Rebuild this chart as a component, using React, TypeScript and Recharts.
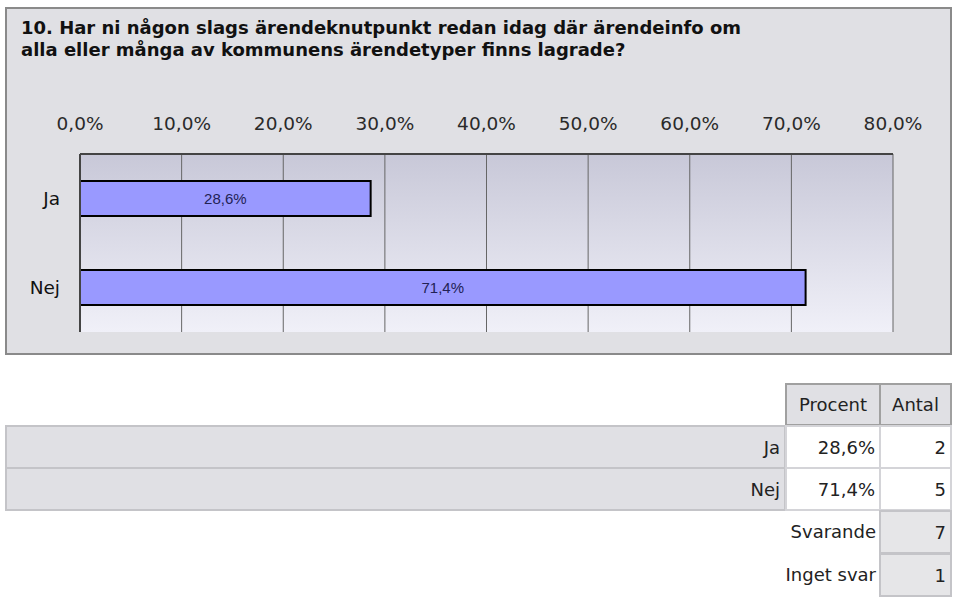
import { BarChart, Bar, XAxis, YAxis, CartesianGrid, LabelList } from 'recharts';

const categories = ['Ja', 'Nej'];
const percents = [28.6, 71.4];
const counts = [2, 5];
const xTicks = [0, 10, 20, 30, 40, 50, 60, 70, 80];
const answered = 7;
const noAnswer = 1;

const TITLE_LINES = [
  '10. Har ni någon slags ärendeknutpunkt redan idag där ärendeinfo om',
  'alla eller många av kommunens ärendetyper finns lagrade?',
];

const FONT = '"DejaVu Sans", Verdana, sans-serif';
const fmt = (v: number) => v.toFixed(1).replace('.', ',') + '%';

const data = categories.map((name, i) => ({ name, value: percents[i] }));

const cell = (extra: React.CSSProperties): React.CSSProperties => ({
  position: 'absolute',
  boxSizing: 'border-box',
  fontFamily: FONT,
  fontSize: 18,
  color: '#222',
  display: 'flex',
  alignItems: 'center',
  justifyContent: 'flex-end',
  paddingRight: 4,
  whiteSpace: 'nowrap',
  ...extra,
});

export default function App() {
  const rowTop = 425;
  const rowH = 42;
  return (
    <div style={{ position: 'absolute', left: 0, top: 0, width: 959, height: 601, background: '#fff' }}>
      <div
        style={{
          position: 'absolute',
          left: 5,
          top: 7,
          width: 947,
          height: 348,
          boxSizing: 'border-box',
          border: '2px solid #8a8a8a',
          background: '#e0e0e4',
        }}
      />
      <div
        style={{
          position: 'absolute',
          left: 21,
          top: 17,
          fontFamily: FONT,
          fontWeight: 'bold',
          fontSize: 18,
          lineHeight: '22px',
          color: '#111',
          whiteSpace: 'nowrap',
        }}
      >
        {TITLE_LINES.map((l) => (
          <div key={l}>{l}</div>
        ))}
      </div>
      <div style={{ position: 'absolute', left: 0, top: 0 }}>
        <BarChart
          width={959}
          height={360}
          data={data}
          layout="vertical"
          margin={{ top: 114, right: 66, bottom: 28, left: 20 }}
        >
          <defs>
            <linearGradient id="plotBg" x1="0" y1="0" x2="0" y2="1">
              <stop offset="0%" stopColor="#c8c8d8" />
              <stop offset="100%" stopColor="#f0f0f8" />
            </linearGradient>
          </defs>
          <CartesianGrid
            horizontal={false}
            stroke="#666"
            fill="url(#plotBg)"
            fillOpacity={1}
          />
          <XAxis
            type="number"
            orientation="top"
            domain={[0, 80]}
            ticks={xTicks}
            tickFormatter={fmt}
            height={40}
            tickLine={false}
            tickMargin={18}
            axisLine={{ stroke: '#444', strokeWidth: 2 }}
            tick={{ fontFamily: FONT, fontSize: 18.5, fill: '#2a2a2a' }}
          />
          <XAxis
            xAxisId="bottom"
            type="number"
            orientation="bottom"
            domain={[0, 80]}
            height={0}
            tick={false}
            tickLine={false}
            axisLine={{ stroke: '#888', strokeWidth: 2 }}
          />
          <YAxis
            type="category"
            dataKey="name"
            width={60}
            tickLine={false}
            tickMargin={14}
            axisLine={{ stroke: '#444', strokeWidth: 2 }}
            tick={{ fontFamily: FONT, fontSize: 18.5, fill: '#111' }}
          />
          <Bar
            dataKey="value"
            fill="#9999ff"
            stroke="#000"
            strokeWidth={2}
            barSize={35}
            isAnimationActive={false}
          >
            <LabelList
              dataKey="value"
              position="center"
              formatter={(v: any) => fmt(Number(v))}
              style={{ fontFamily: '"Liberation Sans", Arial, sans-serif', fontSize: 15, fill: '#222255' }}
            />
          </Bar>
        </BarChart>
      </div>

      <div style={cell({ left: 785, top: 383, width: 96, height: 43, background: '#e0e0e4', border: '2px solid #a0a0a0', justifyContent: 'center', paddingRight: 0 })}>Procent</div>
      <div style={cell({ left: 879, top: 383, width: 73, height: 43, background: '#e0e0e4', border: '2px solid #a0a0a0', justifyContent: 'center', paddingRight: 0 })}>Antal</div>

      {categories.map((c, i) => (
        <div key={c}>
          <div style={cell({ left: 5, top: rowTop + i * rowH, width: 781, height: rowH + 2, background: '#e0e0e4', border: '2px solid #c4c4c8' })}>{c}</div>
          <div style={cell({ left: 785, top: rowTop + i * rowH, width: 96, height: rowH + 2, background: '#fff', border: '2px solid #d4d4d8' })}>{fmt(percents[i])}</div>
          <div style={cell({ left: 879, top: rowTop + i * rowH, width: 73, height: rowH + 2, background: '#fff', border: '2px solid #d4d4d8' })}>{counts[i]}</div>
        </div>
      ))}

      <div style={cell({ left: 700, top: 510, width: 180, height: 43 })}>Svarande</div>
      <div style={cell({ left: 879, top: 510, width: 73, height: 44, background: '#e6e6e8', border: '2px solid #c4c4c8' })}>{answered}</div>
      <div style={cell({ left: 700, top: 553, width: 180, height: 43 })}>Inget svar</div>
      <div style={cell({ left: 879, top: 553, width: 73, height: 44, background: '#e6e6e8', border: '2px solid #c4c4c8' })}>{noAnswer}</div>
    </div>
  );
}
